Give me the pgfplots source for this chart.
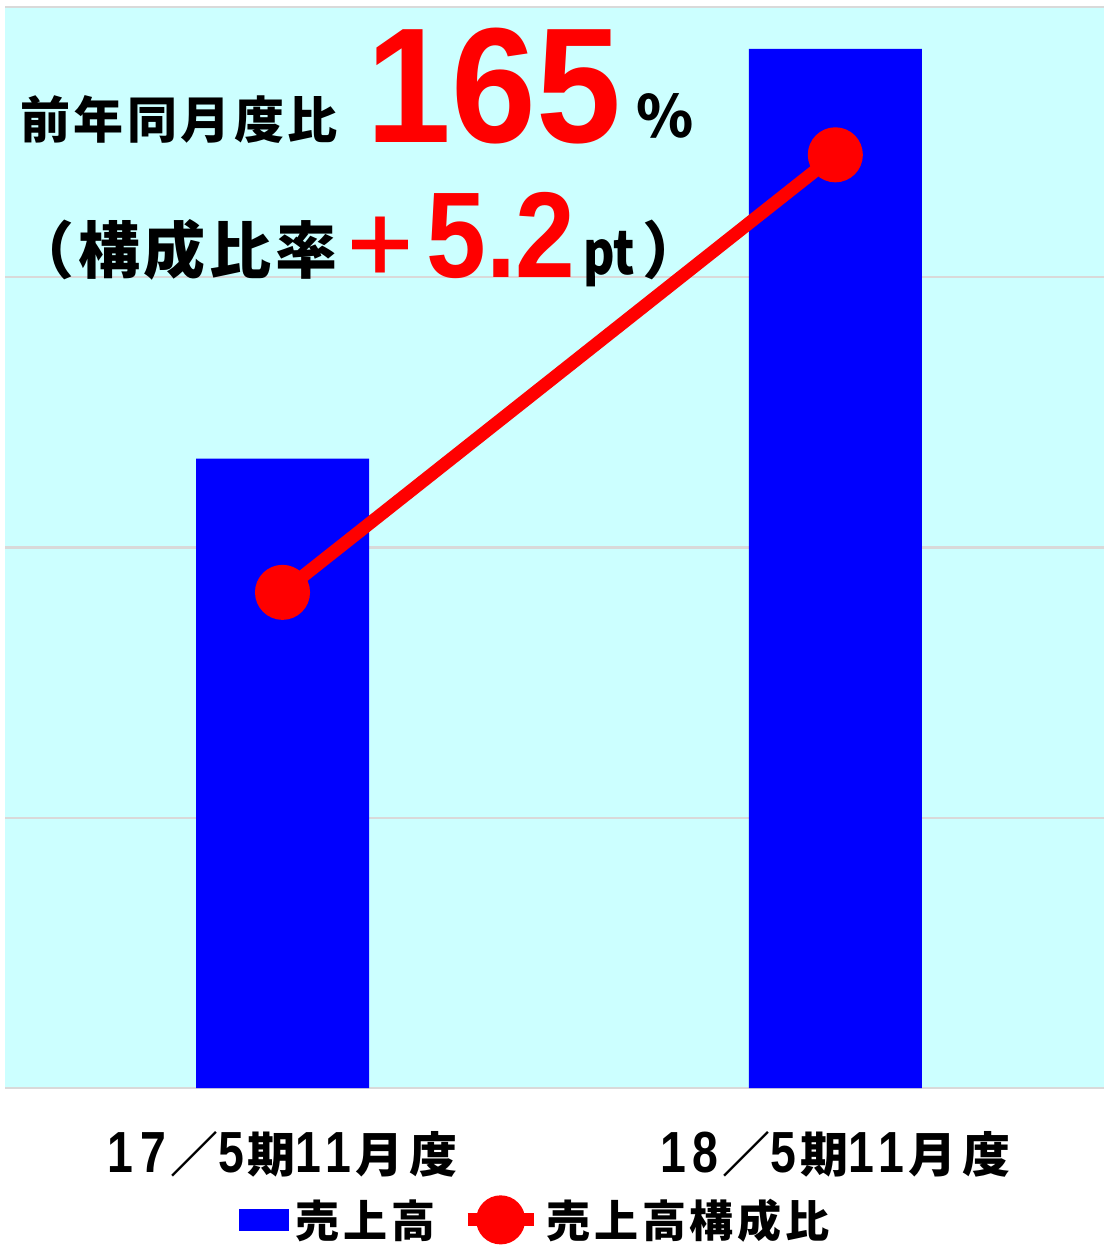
\documentclass[border=0pt]{standalone}
\usepackage{fontspec}
\setmainfont{Noto Sans CJK JP}
\newfontfamily\bignum{Liberation Sans}[FakeStretch=0.93]
\newfontfamily\midnum{Liberation Sans}[FakeStretch=0.88]
\newfontfamily\tnum{Liberation Sans}[FakeStretch=0.8, LetterSpace=12]
\newfontfamily\cond{Noto Sans CJK JP}[FakeStretch=0.8]
\newcommand{\dg}[1]{{\fontsize{29pt}{30pt}\tnum\bfseries #1}\hspace{2pt}}
\usepackage{pgfplots}
\pgfplotsset{compat=1.18}
\definecolor{bgcyan}{RGB}{204,255,255}
\definecolor{gridgray}{RGB}{217,217,217}
\definecolor{barblue}{RGB}{0,0,255}
\definecolor{linered}{RGB}{255,0,0}
\begin{document}
\begin{tikzpicture}
\begin{axis}[name=ax,
  scale only axis,
  width=549.5pt, height=540.5pt,
  xmin=-0.502, xmax=1.486,
  ymin=0, ymax=4,
  xtick={0,1},
  xticklabels={{\dg{17}／\dg{5}期\dg{11}月度}, {\dg{18}／\dg{5}期\dg{11}月度}},
  xticklabel style={font=\fontsize{24pt}{28pt}\bfseries\addfontfeature{LetterSpace=12}, yshift=-18pt},
  ytick={0,1,2,3,4}, yticklabels={},
  major tick length=0pt,
  ymajorgrids, grid style={draw=gridgray, line width=1.2pt},
  axis line style={draw=none},
  axis background/.style={fill=bgcyan},
  legend style={at={(0.4846,-0.122)}, anchor=center, draw=none, fill=none,
    legend columns=2, font=\fontsize{22pt}{26pt}\bfseries\addfontfeature{LetterSpace=9},
    /tikz/every even column/.append style={column sep=10pt},
    nodes={inner sep=1pt, inner xsep=3pt}},
]
\addplot[ybar, bar width=86.5pt, fill=barblue, draw=none,
  legend image code/.code={\fill[barblue] (0pt,-5.5pt) rectangle (25pt,5.5pt);}]
  coordinates {(0,2.329) (1,3.845)};
\addlegendentry{売上高}
\addplot[linered, line width=6.5pt, mark=*, mark size=10.5pt,
  mark options={fill=linered, draw=none},
  legend image code/.code={\draw[linered, line width=6.5pt] (0pt,0pt) -- (33pt,0pt);
    \fill[linered] (16.5pt,0pt) circle (9pt);}]
  coordinates {(0,1.834) (1,3.453)};
\addlegendentry{売上高構成比}
\end{axis}
\begin{scope}[shift={([xshift=-2.5pt,yshift=544pt]ax.south west)}, x=0.5pt, y=-0.5pt]
  \node[anchor=base west, inner sep=0pt, font=\fontsize{25pt}{30pt}\bfseries\addfontfeature{LetterSpace=7}] at (20,139) {前年同月度比};
  \node[anchor=base west, inner sep=0pt, text=linered, font=\fontsize{82pt}{90pt}\bignum\bfseries] at (366,143) {165};
  \node[anchor=base west, inner sep=0pt, font=\fontsize{29pt}{34pt}\bfseries] at (636,138) {\%};
  \node[anchor=base west, inner sep=0pt, font=\fontsize{31pt}{36pt}\bfseries\addfontfeature{LetterSpace=6}] at (12,274) {（構成比率};
  \node[anchor=base west, inner sep=0pt, text=linered, font=\fontsize{40pt}{44pt}\bfseries] at (340,276) {＋};
  \node[anchor=base west, inner sep=0pt, text=linered, font=\fontsize{61pt}{66pt}\midnum\bfseries] at (426,278) {5.2};
  \node[anchor=base west, inner sep=0pt, font=\fontsize{30pt}{32pt}\cond\bfseries] at (583,275) {pt};
  \node[anchor=base west, inner sep=0pt, font=\fontsize{31pt}{36pt}\bfseries] at (642,274) {）};
\end{scope}
\pgfresetboundingbox
\path ([xshift=-2.5pt,yshift=-78.5pt]ax.south west) rectangle ([yshift=3.5pt]ax.north east);
\end{tikzpicture}
\end{document}
